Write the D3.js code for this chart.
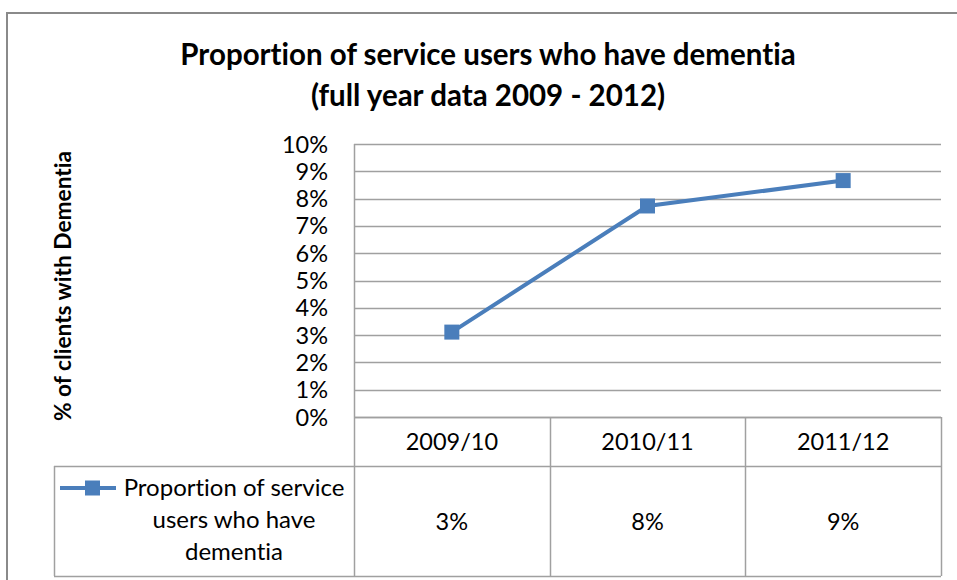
<!DOCTYPE html>
<html>
<head>
<meta charset="utf-8">
<script src="https://cdn.jsdelivr.net/npm/d3@7"></script>
<style>
  body { margin: 0; background: #fff; }
  svg { display: block; font-family: Lato, 'Open Sans', sans-serif; font-variant-ligatures: none; }
</style>
</head>
<body>
<svg id="chart" width="957" height="580"></svg>
<script>
const titleLines = ['Proportion of service users who have dementia', '(full year data 2009 - 2012)']
const yAxisTitle = '% of clients with Dementia'
const categories = ['2009/10', '2010/11', '2011/12']
const values = [0.0311, 0.0773, 0.0866]
const tableLabels = ['3%', '8%', '9%']
const seriesName = ['Proportion of service', 'users who have', 'dementia']
const yTicks = [0, 0.01, 0.02, 0.03, 0.04, 0.05, 0.06, 0.07, 0.08, 0.09, 0.1]

const lineColor = '#4a7ebb'
const gridColor = '#a0a0a0'

const svg = d3.select('#chart')

// outer chart border
svg.append('rect')
  .attr('x', 7).attr('y', 13)
  .attr('width', 970).attr('height', 600)
  .attr('fill', 'none')
  .attr('stroke', '#8a8a8a')
  .attr('stroke-width', 2)

// title
svg.append('g').selectAll('text')
  .data(titleLines)
  .enter().append('text')
  .attr('x', 488)
  .attr('y', (d, i) => 65 + i * 41)
  .attr('text-anchor', 'middle')
  .style('font-size', '29.5px')
  .style('font-weight', 'bold')
  .style('fill', '#000')
  .text(d => d)

const plot = { left: 354, right: 941, top: 144, bottom: 417 }

const x = d3.scaleBand().domain(categories).range([plot.left, plot.right])
const y = d3.scaleLinear().domain([0, 0.1]).range([plot.bottom, plot.top])

// gridlines
svg.append('g').selectAll('line')
  .data(yTicks)
  .enter().append('line')
  .attr('x1', plot.left).attr('x2', plot.right)
  .attr('y1', d => Math.round(y(d)) + 0.5).attr('y2', d => Math.round(y(d)) + 0.5)
  .attr('stroke', gridColor)
  .attr('stroke-width', 1.5)

// y axis line
svg.append('line')
  .attr('x1', plot.left + 0.5).attr('x2', plot.left + 0.5)
  .attr('y1', plot.top).attr('y2', plot.bottom)
  .attr('stroke', gridColor)
  .attr('stroke-width', 1.5)

// y tick labels
svg.append('g').selectAll('text')
  .data(yTicks)
  .enter().append('text')
  .attr('x', 328)
  .attr('y', d => y(d) + 8.5)
  .attr('text-anchor', 'end')
  .style('font-size', '23.5px')
  .style('fill', '#000')
  .text(d => d3.format('.0%')(d))

// y axis title
svg.append('text')
  .attr('transform', 'translate(71, 286) rotate(-90)')
  .attr('text-anchor', 'middle')
  .style('font-size', '22.7px')
  .style('font-weight', 'bold')
  .text(yAxisTitle)

// series line + markers
const line = d3.line()
  .x((d, i) => x(categories[i]) + x.bandwidth() / 2)
  .y(d => y(d))

svg.append('path')
  .datum(values)
  .attr('d', line)
  .attr('fill', 'none')
  .attr('stroke', lineColor)
  .attr('stroke-width', 4)

svg.append('g').selectAll('rect')
  .data(values)
  .enter().append('rect')
  .attr('x', (d, i) => x(categories[i]) + x.bandwidth() / 2 - 7.5)
  .attr('y', d => y(d) - 7.5)
  .attr('width', 15).attr('height', 15)
  .attr('fill', lineColor)

// data table
const table = { legendLeft: 54, headTop: plot.bottom, rowTop: 466, bottom: 576 }
const tbl = svg.append('g')
  .attr('stroke', gridColor)
  .attr('stroke-width', 1.5)

tbl.append('line')
  .attr('x1', plot.left).attr('x2', plot.right)
  .attr('y1', table.headTop + 0.5).attr('y2', table.headTop + 0.5)
tbl.append('line')
  .attr('x1', table.legendLeft).attr('x2', plot.right)
  .attr('y1', table.rowTop + 0.5).attr('y2', table.rowTop + 0.5)
tbl.append('line')
  .attr('x1', table.legendLeft).attr('x2', plot.right)
  .attr('y1', table.bottom + 0.5).attr('y2', table.bottom + 0.5)
tbl.append('line')
  .attr('x1', table.legendLeft + 0.5).attr('x2', table.legendLeft + 0.5)
  .attr('y1', table.rowTop).attr('y2', table.bottom)

const colEdges = [plot.left].concat(categories.map(c => x(c) + x.bandwidth()))
tbl.selectAll('line.col')
  .data(colEdges)
  .enter().append('line')
  .attr('class', 'col')
  .attr('x1', d => Math.round(d) + 0.5).attr('x2', d => Math.round(d) + 0.5)
  .attr('y1', table.headTop).attr('y2', table.bottom)

svg.append('g').selectAll('text')
  .data(categories)
  .enter().append('text')
  .attr('x', d => x(d) + x.bandwidth() / 2)
  .attr('y', 450)
  .attr('text-anchor', 'middle')
  .style('font-size', '23.5px')
  .text(d => d)

svg.append('g').selectAll('text')
  .data(tableLabels)
  .enter().append('text')
  .attr('x', (d, i) => x(categories[i]) + x.bandwidth() / 2)
  .attr('y', 530)
  .attr('text-anchor', 'middle')
  .style('font-size', '23.5px')
  .text(d => d)

// legend key inside table
svg.append('line')
  .attr('x1', 60).attr('x2', 116)
  .attr('y1', 488).attr('y2', 488)
  .attr('stroke', lineColor)
  .attr('stroke-width', 4)
svg.append('rect')
  .attr('x', 85).attr('y', 480.5)
  .attr('width', 15).attr('height', 15)
  .attr('fill', lineColor)

svg.append('g').selectAll('text')
  .data(seriesName)
  .enter().append('text')
  .attr('x', 234)
  .attr('y', (d, i) => 496 + i * 32)
  .attr('text-anchor', 'middle')
  .style('font-size', '24px')
  .text(d => d)
</script>
</body>
</html>
